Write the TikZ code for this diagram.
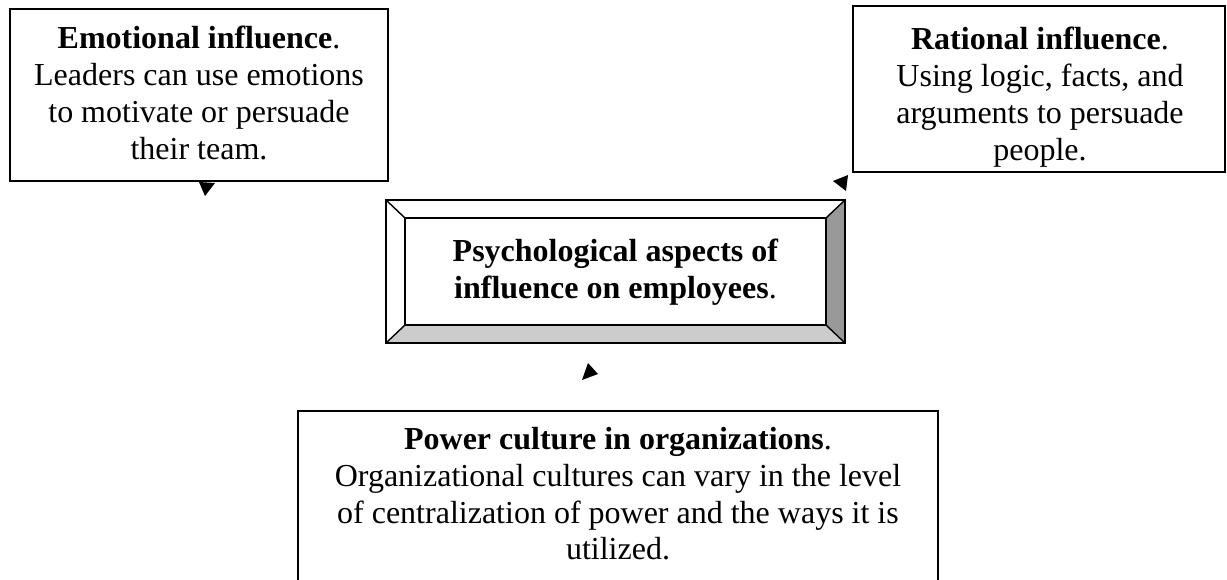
\documentclass[tikz,border=0pt]{standalone}
\usepackage{fontspec}
\setmainfont{Liberation Serif}
\tikzset{
  txt/.style={font=\fontsize{32}{36.8}\selectfont, align=center, inner sep=0pt, anchor=north},
  frame/.style={draw=black, line width=2pt, inner sep=0pt, fill=white},
  bevelline/.style={draw=black, line width=1.4pt, line join=miter},
  tri/.style={fill=black}
}
\begin{document}
\begin{tikzpicture}[x=1pt,y=-1pt]
\useasboundingbox (0,0) rectangle (1227,579);
\fill[white] (0,0) rectangle (1227,579);

% Emotional influence
\node[frame, minimum width=378pt, minimum height=172pt] (emo) at (199,95) {};
\node[txt] (emotxt) at (199,26) {\textbf{Emotional influence}.\\Leaders can use emotions\\to motivate or persuade\\their team.};

% Rational influence
\node[frame, minimum width=372pt, minimum height=166pt] (rat) at (1039,89) {};
\node[txt] (rattxt) at (1040,27) {\textbf{Rational influence}.\\Using logic, facts, and\\arguments to persuade\\people.};

% Power culture (its lower edge lies below the picture)
\node[frame, minimum width=640pt, minimum height=178pt] (pow) at (618,500) {};
\node[txt] (powtxt) at (618,427) {\textbf{Power culture in organizations}.\\Organizational cultures can vary in the level\\of centralization of power and the ways it is\\utilized.};

% Central bevel box
\coordinate (o1) at (386,200);
\coordinate (o2) at (845,200);
\coordinate (o3) at (845,343);
\coordinate (o4) at (386,343);
\coordinate (i1) at (405,218);
\coordinate (i2) at (826,218);
\coordinate (i3) at (826,325);
\coordinate (i4) at (405,325);
\fill[white] (o1) -- (o2) -- (i2) -- (i1) -- cycle;
\fill[white] (o1) -- (i1) -- (i4) -- (o4) -- cycle;
\fill[black!40] (o2) -- (o3) -- (i3) -- (i2) -- cycle;
\fill[black!20] (o4) -- (i4) -- (i3) -- (o3) -- cycle;
\draw[bevelline] (o1) rectangle (o3);
\draw[bevelline] (o1) -- (i1) (o2) -- (i2) (o3) -- (i3) (o4) -- (i4);
\node[draw=black, line width=1.4pt, fill=white, minimum width=421pt, minimum height=107pt, inner sep=0pt] (psybox) at (615.5,271.5) {};
\node[txt, anchor=center] (psy) at (615.5,272) {\textbf{Psychological aspects of}\\\textbf{influence on employees}.};

% Arrowheads
\fill[tri] (199,182) -- (215,183) -- (205,196) -- cycle;
\fill[tri] (833,181) -- (848,175) -- (846,191) -- cycle;
\fill[tri] (588,363) -- (598,374) -- (582,380) -- cycle;
\end{tikzpicture}
\end{document}
